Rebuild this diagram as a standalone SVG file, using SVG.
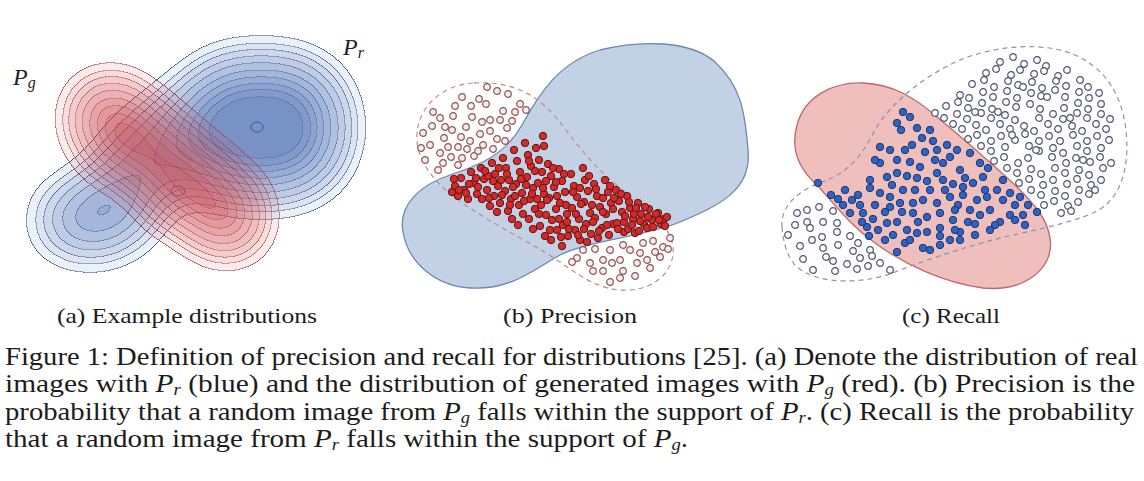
<svg xmlns="http://www.w3.org/2000/svg" width="1144" height="481" viewBox="0 0 1144 481">
<style>
.cap{font-family:"Liberation Serif","Times New Roman",serif;font-size:25px;fill:#1c1c1c}
.sc{font-family:"Liberation Serif","Times New Roman",serif;font-size:22px;fill:#1c1c1c}
.m{font-style:italic}
.s{font-size:16px;font-style:italic}
.lab{font-family:"Liberation Serif","Times New Roman",serif;font-style:italic;font-size:24px;fill:#222}
.ls{font-size:16px}
.pts{fill:none;stroke:none}
.rf{marker-start:url(#rf);marker-mid:url(#rf);marker-end:url(#rf)}
.rh{marker-start:url(#rh);marker-mid:url(#rh);marker-end:url(#rh)}
.bf{marker-start:url(#bf);marker-mid:url(#bf);marker-end:url(#bf)}
.bh{marker-start:url(#bh);marker-mid:url(#bh);marker-end:url(#bh)}
</style>
<defs>
<filter id="kdeB" filterUnits="userSpaceOnUse" x="0" y="10" width="395" height="285" color-interpolation-filters="sRGB">
<feGaussianBlur in="SourceAlpha" stdDeviation="24" result="b"/>
<feComponentTransfer in="b" result="r"><feFuncA type="table" tableValues="0 .1 .238 .338 .422 .5 .578 .662 .762 .9 1"/></feComponentTransfer>
<feComponentTransfer in="r" result="s"><feFuncA type="discrete" tableValues="0 .1 .18 .26 .33 .4 .47 .53 .59 .65 .7"/></feComponentTransfer>
<feConvolveMatrix in="s" order="3" kernelMatrix="0 -1 0 -1 4 -1 0 -1 0" divisor="1" preserveAlpha="false" result="e"/>
<feComponentTransfer in="e" result="e2"><feFuncA type="linear" slope="5.5"/></feComponentTransfer>
<feFlood flood-color="#3d63ad" result="fc"/>
<feComposite in="fc" in2="s" operator="in" result="fill"/>
<feFlood flood-color="#34558f" result="lc"/>
<feComposite in="lc" in2="e2" operator="in" result="line"/>
<feMerge result="m"><feMergeNode in="fill"/><feMergeNode in="line"/></feMerge>
<feGaussianBlur in="m" stdDeviation="0.5"/>
</filter>
<filter id="kdeR" filterUnits="userSpaceOnUse" x="0" y="10" width="395" height="285" color-interpolation-filters="sRGB">
<feGaussianBlur in="SourceAlpha" stdDeviation="22" result="b"/>
<feComponentTransfer in="b" result="r"><feFuncA type="table" tableValues="0 .1 .238 .338 .422 .5 .578 .662 .762 .9 1"/></feComponentTransfer>
<feComponentTransfer in="r" result="s"><feFuncA type="discrete" tableValues="0 .1 .18 .26 .33 .4 .47 .53 .59 .65 .7"/></feComponentTransfer>
<feConvolveMatrix in="s" order="3" kernelMatrix="0 -1 0 -1 4 -1 0 -1 0" divisor="1" preserveAlpha="false" result="e"/>
<feComponentTransfer in="e" result="e2"><feFuncA type="linear" slope="5.5"/></feComponentTransfer>
<feFlood flood-color="#cc3c43" result="fc"/>
<feComposite in="fc" in2="s" operator="in" result="fill"/>
<feFlood flood-color="#a8434a" result="lc"/>
<feComposite in="lc" in2="e2" operator="in" result="line"/>
<feMerge result="m"><feMergeNode in="fill"/><feMergeNode in="line"/></feMerge>
<feGaussianBlur in="m" stdDeviation="0.5"/>
</filter>
<marker id="rf" markerUnits="userSpaceOnUse" markerWidth="10" markerHeight="10" refX="5" refY="5" overflow="visible"><circle cx="5" cy="5" r="3.7" fill="#d42a2a" stroke="#5e1515" stroke-width="1"/></marker>
<marker id="rh" markerUnits="userSpaceOnUse" markerWidth="10" markerHeight="10" refX="5" refY="5" overflow="visible"><circle cx="5" cy="5" r="3.3" fill="#f7eded" stroke="#8d5555" stroke-width="1.2"/></marker>
<marker id="bf" markerUnits="userSpaceOnUse" markerWidth="10" markerHeight="10" refX="5" refY="5" overflow="visible"><circle cx="5" cy="5" r="3.7" fill="#2f63c2" stroke="#1c3570" stroke-width="1"/></marker>
<marker id="bh" markerUnits="userSpaceOnUse" markerWidth="10" markerHeight="10" refX="5" refY="5" overflow="visible"><circle cx="5" cy="5" r="3.3" fill="#ffffff" stroke="#4b536e" stroke-width="1.2"/></marker>
</defs>
<rect width="1144" height="481" fill="#ffffff"/>

<g id="panel-a">
<g id="pr-density" filter="url(#kdeB)">
<rect x="184" y="65" width="154" height="125" rx="56"/>
<ellipse cx="165" cy="150" rx="85" ry="38" transform="rotate(-40 165 150)" opacity=".6"/>
<ellipse cx="95" cy="217" rx="50" ry="30" transform="rotate(-8 95 217)" opacity=".85"/>
</g>
<ellipse cx="257" cy="127" rx="6" ry="5" fill="none" stroke="#34558f" stroke-width="1"/>
<g id="pg-density" filter="url(#kdeR)">
<rect x="57" y="137" width="215" height="66" rx="33" transform="rotate(40 173 170)" opacity=".9"/>
<circle cx="120" cy="140" r="30"/>
<circle cx="180" cy="192" r="28"/>
<circle cx="228" cy="222" r="28" opacity=".85"/>
</g>
<ellipse cx="178" cy="191" rx="7" ry="5" fill="none" stroke="#a8434a" stroke-width="1"/>
<text class="lab" x="343" y="55">P<tspan class="ls" dy="3">r</tspan></text>
<text class="lab" x="13" y="85">P<tspan class="ls" dy="3">g</tspan></text>
</g>

<g id="panel-b">
<path id="pr-support-b" d="M403 232 C398 205 420 185 450 175 C480 165 505 155 522 125 C540 92 560 62 600 50 C640 40 690 40 715 62 C740 85 745 110 748 150 C752 190 720 205 680 222 C640 238 590 240 560 255 C530 272 510 290 470 288 C435 286 408 262 403 232 Z" fill="#c3d1e4" stroke="#6d87b3" stroke-width="1.3"/>
<path id="pg-support-b" d="M473 83 C440 85 415 110 417 140 C418 165 440 190 473 210 C500 228 530 242 560 262 C585 280 605 292 630 290 C660 288 678 265 672 242 C668 225 650 210 625 192 C600 172 590 160 575 142 C560 122 545 100 520 90 C505 84 490 82 473 83 Z" fill="none" stroke="#c08a8a" stroke-width="1.2" stroke-dasharray="5 4"/>
<path class="pts rh" d="M497 91 508 94 462 97 471 106 479 99 440 118 453 116 423 133 432 126 444 138 452 130 461 137 472 117 482 122 490 120 500 120 515 112 507 128 490 131 480 134 470 141 440 153 448 147 458 147 467 149 474 156 462 158 451 157 438 170 443 163 458 165 483 145 497 139 503 111 430 145 425 160 486 104 455 106 445 127 466 127 493 149 478 151 505 141 512 121 520 104 526 110 487 87 433 112 421 148"/>
<path class="pts rh" d="M583 250 590 263 603 260 577 258 593 271 623 245 620 260 630 250 637 263 623 271 643 243 653 241 663 247 670 238 660 257 647 260 620 278 603 271 572 262 610 250 595 249 612 263 640 253 655 252 668 249 635 276 610 282 650 268"/>
<path class="pts rf" d="M452 192 455 186 458 196 454 179 461 178 464 190 468 199 471 172 474 183 477 194 481 168 484 179 487 190 482 199 490 206 492 163 495 174 498 186 494 196 500 203 497 212 503 158 506 168 509 180 505 191 511 199 508 211 512 219 514 150 517 161 520 172 516 184 522 193 519 205 523 214 518 225 525 143 528 155 531 166 527 177 533 188 530 199 535 209 529 219 533 229 536 148 539 160 542 172 538 183 544 194 541 205 546 215 540 226 545 236 543 136 544 146 548 164 551 176 554 187 549 198 556 209 552 220 557 230 551 240 559 169 562 181 565 192 560 203 567 214 563 225 568 236 562 246 571 174 574 186 577 197 572 208 579 219 575 230 580 240 583 168 585 180 588 191 584 202 590 213 586 224 591 234 587 242 594 184 597 196 600 207 595 218 602 228 598 238 605 180 608 192 611 203 606 214 613 224 609 235 616 190 619 201 622 212 617 223 624 232 627 196 630 208 633 219 628 229 635 233 638 203 641 214 644 224 639 231 649 209 652 220 647 228 658 213 661 224 664 219 667 217 488 176 526 185 557 196 592 205 613 209 634 214 580 188 546 181 515 196 501 180 537 199 567 222 603 198 624 222 478 187 469 184 459 190 466 193 476 178 485 171 489 198 493 181 499 168 502 195 507 174 510 205 513 187 521 179 524 201 529 161 532 194 535 171 539 214 543 188 547 200 550 230 553 168 556 182 559 219 561 237 564 174 566 205 569 229 573 192 576 214 578 235 581 204 584 229 589 176 593 222 596 189 599 231 603 212 607 225 610 186 614 198 618 229 621 194 625 216 629 202 632 225 636 208 640 221 645 207 648 217 653 227 656 214 659 220 665 226"/>
</g>

<g id="panel-c">
<path id="pg-support-c" d="M863 83 C835 82 805 95 797 125 C790 150 800 170 817 185 C835 205 850 225 875 243 C905 265 945 283 983 288 C1025 292 1055 268 1050 238 C1047 218 1035 205 1015 185 C990 162 965 140 937 117 C915 98 893 84 863 83 Z" fill="#efbfbd" stroke="#c2676a" stroke-width="1.3"/>
<path id="pr-support-c" d="M782 227 C780 205 800 190 822 182 C845 174 860 160 875 130 C892 100 930 72 965 58 C1000 45 1045 42 1075 55 C1105 68 1122 95 1126 130 C1130 170 1120 200 1095 212 C1065 226 1020 232 985 242 C950 252 920 262 890 274 C860 284 815 285 795 265 C786 255 783 240 782 227 Z" fill="none" stroke="#8c93ad" stroke-width="1.2" stroke-dasharray="5 4"/>
<path class="pts bh" d="M797 213 807 210 819 207 833 211 807 222 823 222 837 223 788 235 810 228 822 237 837 232 850 236 858 243 870 250 823 248 838 245 853 251 860 258 872 256 880 263 890 270 833 261 835 271 813 270 847 264 857 269 800 246 795 225 812 240 868 266 826 257 803 259"/>
<path class="pts bh" d="M1000 62 1013 57 1024 64 1037 60 1046 66 986 73 996 69 1011 75 1020 70 1034 74 1044 71 1058 76 1067 70 972 84 984 80 994 87 1008 81 1018 85 1032 82 1042 88 1056 81 1066 86 1080 80 1088 87 960 95 969 98 983 92 993 97 1007 91 1017 98 1031 93 1041 96 1055 90 1065 97 1079 92 1089 98 1099 93 946 106 958 102 968 108 982 103 992 109 1006 102 1016 107 1030 104 1040 109 1064 108 1078 103 1088 109 1101 104 935 113 944 118 957 114 967 119 981 113 991 118 1005 115 1015 120 1039 118 1053 114 1063 119 1077 113 1087 118 1101 114 1110 119 953 124 962 129 976 125 986 130 1000 124 1010 129 1024 126 1034 131 1048 124 1058 129 1072 126 1082 131 1096 124 1106 129 968 139 977 135 991 141 1001 136 1015 140 1025 134 1039 141 1049 136 1073 135 1087 141 1097 136 1109 140 981 146 991 151 1005 147 1029 146 1039 151 1053 148 1063 153 1077 146 1087 151 1101 148 994 161 1004 157 1018 163 1028 158 1052 157 1066 163 1076 158 1090 162 1100 157 1111 163 1007 168 1017 173 1031 169 1041 174 1055 168 1065 173 1079 170 1089 175 1103 168 1019 183 1029 179 1043 185 1053 180 1067 184 1077 179 1091 185 1101 180 1031 190 1041 195 1055 191 1065 196 1079 190 1089 194 1044 205 1054 201 1068 206 1078 202 1061 213 1071 211 1047 97 1023 87 1060 141 1083 160 1095 190 1036 150 1070 118 1012 135 998 112 975 112"/>
<path class="pts bf" d="M818 183 831 195 838 199 850 213 858 195 863 213 867 227 869 236 870 180 880 147 880 163 897 123 901 130 910 117 917 128 922 138 930 130 933 141 897 160 910 162 920 167 887 177 897 173 907 176 917 178 927 181 937 173 943 163 950 157 957 150 970 153 980 163 988 168 943 180 953 184 963 187 973 183 983 177 870 188 880 193 890 197 900 203 913 203 923 200 937 203 950 197 963 195 977 200 987 197 997 190 1003 180 1010 193 1020 197 1003 200 1000 222 995 225 1010 215 1023 215 1037 212 970 210 960 232 887 223 897 222 907 230 917 233 923 248 930 250 897 252 905 243 890 207 913 213 927 217 940 213 843 205 852 200 860 205 875 205 885 212 903 190 915 190 930 190 945 190 958 205 968 222 980 215 990 210 953 220 940 228 927 232 910 240 893 235 878 230 885 240 990 230 1015 205 1028 205 960 170 947 145 937 150 925 152 912 145 890 150 892 185 960 240 975 235 950 240 940 245 1025 225 903 112 845 190 875 160 905 150 935 160 965 178 955 210 985 190 918 222 902 212 873 219 862 222 940 236 955 230 975 224 1015 220"/>
</g>

<g id="captions">
<text class="sc" x="57" y="323" textLength="260" lengthAdjust="spacingAndGlyphs">(a) Example distributions</text>
<text class="sc" x="503" y="323" textLength="134" lengthAdjust="spacingAndGlyphs">(b) Precision</text>
<text class="sc" x="902" y="323" textLength="98" lengthAdjust="spacingAndGlyphs">(c) Recall</text>
<text class="cap" x="5" y="365" textLength="1133" lengthAdjust="spacingAndGlyphs">Figure 1: Definition of precision and recall for distributions [25]. (a) Denote the distribution of real</text>
<text class="cap" x="5" y="392" textLength="1130" lengthAdjust="spacingAndGlyphs">images with <tspan class="m">P</tspan><tspan class="s" dy="3">r</tspan><tspan dy="-3"> (blue) and the distribution of generated images with </tspan><tspan class="m">P</tspan><tspan class="s" dy="3">g</tspan><tspan dy="-3"> (red). (b) Precision is the</tspan></text>
<text class="cap" x="5" y="420" textLength="1129" lengthAdjust="spacingAndGlyphs">probability that a random image from <tspan class="m">P</tspan><tspan class="s" dy="3">g</tspan><tspan dy="-3"> falls within the support of </tspan><tspan class="m">P</tspan><tspan class="s" dy="3">r</tspan><tspan dy="-3">. (c) Recall is the probability</tspan></text>
<text class="cap" x="5" y="447" textLength="683" lengthAdjust="spacingAndGlyphs">that a random image from <tspan class="m">P</tspan><tspan class="s" dy="3">r</tspan><tspan dy="-3"> falls within the support of </tspan><tspan class="m">P</tspan><tspan class="s" dy="3">g</tspan><tspan dy="-3">.</tspan></text>
</g>
</svg>
